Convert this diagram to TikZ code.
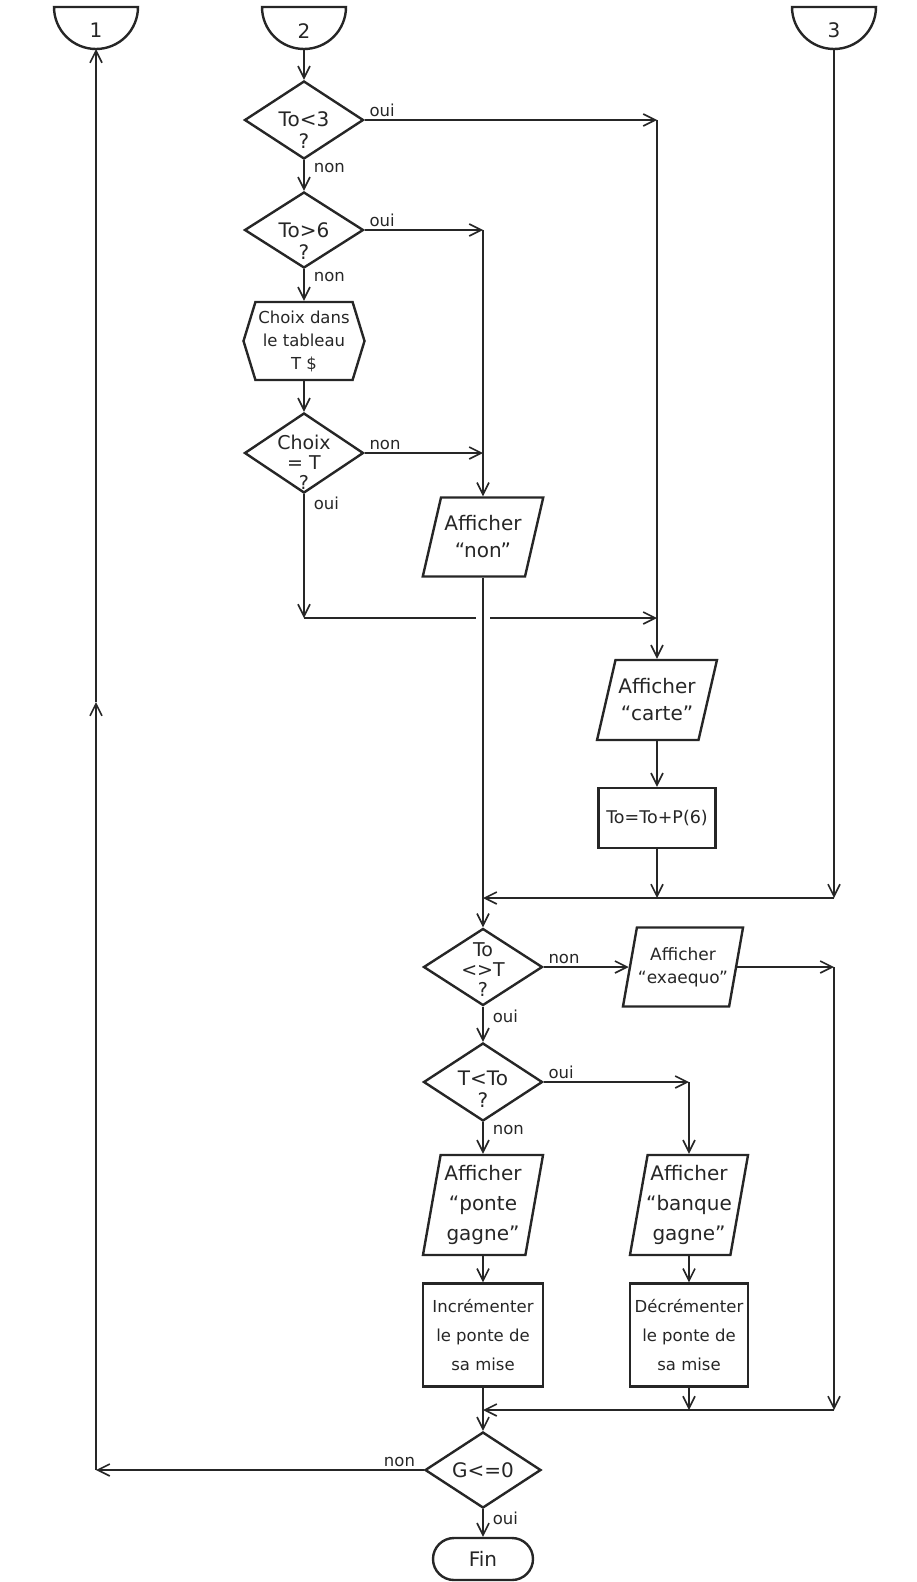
\documentclass[tikz,border=0pt]{standalone}
\usepackage{fontspec}
\setmainfont{DejaVu Sans}
\usetikzlibrary{shapes.geometric,shapes.symbols,shapes.misc,arrows.meta}
\newcommand\fntPar{\fontsize{20}{27}\selectfont}
\newcommand\fntParB{\fontsize{20}{30}\selectfont}
\newcommand\fntDia{\fontsize{20}{22}\selectfont}
\newcommand\fntBox{\fontsize{16.5}{29}\selectfont}
\newcommand\fntHex{\fontsize{16.5}{23}\selectfont}
\newcommand\fntLab{\fontsize{16.5}{18}\selectfont}
\begin{document}
\begin{tikzpicture}[x=1pt,y=-1pt,
 base/.style={draw=black!85, line width=2.4pt, inner sep=0pt, text=black!85},
 dia/.style={base, diamond, minimum width=119pt, minimum height=78pt},
 para/.style={base, trapezium, trapezium left angle=77, trapezium right angle=103,
   inner xsep=42pt, inner ysep=39.5pt},
 parab/.style={base, trapezium, trapezium left angle=80, trapezium right angle=100,
   inner xsep=42.4pt, inner ysep=50pt},
 boxx/.style={base, rectangle, minimum width=120pt, minimum height=103pt},
 hexa/.style={base, signal, signal to=west and east, signal pointer angle=146,
   minimum width=121pt, minimum height=78pt},
 term/.style={base, rounded rectangle, minimum width=100pt, minimum height=42pt},
 txt/.style={align=center, text=black!85, inner sep=0pt},
 lab/.style={font=\fntLab, text=black!85, inner sep=2pt},
 arr/.style={draw=black!85, line width=1.6pt, -{Straight Barb[length=12pt,width=12pt]}},
 conn/.style={draw=black!85, line width=2.4pt},
]
\useasboundingbox (0,0) rectangle (916,1582);

% off-page connectors
\draw[conn] (54,7) -- (138,7) arc[start angle=0, end angle=-180, radius=42pt] -- cycle;
\node[txt, font=\fontsize{20}{22}\selectfont] (c1) at (96,30) {1};
\coordinate (c1b) at (96,49);
\draw[conn] (262,7) -- (346,7) arc[start angle=0, end angle=-180, radius=42pt] -- cycle;
\node[txt, font=\fontsize{20}{22}\selectfont] (c2) at (304,31) {2};
\coordinate (c2b) at (304,49);
\draw[conn] (792,7) -- (876,7) arc[start angle=0, end angle=-180, radius=42pt] -- cycle;
\node[txt, font=\fontsize{20}{22}\selectfont] (c3) at (834,30) {3};
\coordinate (c3b) at (834,49);

% shapes
\node[dia, label={[txt,font=\fntDia,yshift=-10pt]center:To<3\\?}] (d1) at (304,120) {};
\node[dia, minimum height=76pt, label={[txt,font=\fntDia,yshift=-11pt]center:To>6\\?}] (d2) at (304,230) {};
\node[hexa, label={[txt,font=\fntHex]center:Choix dans\\le tableau\\T \$}] (hex) at (304,341) {};
\node[dia, minimum height=80pt, label={[txt,font=\fontsize{19}{20}\selectfont,yshift=-9pt]center:Choix\\= T\\?}] (d3) at (304,453) {};
\node[para, label={[txt,font=\fntPar]center:Afficher\\“non”}] (an) at (483,537) {};
\node[para, inner xsep=41.5pt, inner ysep=40pt, label={[txt,font=\fntPar]center:Afficher\\“carte”}] (carte) at (657,700) {};
\node[boxx, minimum width=117pt, minimum height=60pt, label={[txt,font=\fontsize{17.5}{20}\selectfont]center:To=To+P(6)}] (calc) at (657,818) {};
\node[dia, minimum height=77pt, label={[txt,font=\fontsize{19}{20}\selectfont,yshift=-3pt]center:To\\<>T\\?}] (d4) at (483,967) {};
\node[parab, inner xsep=46.1pt, inner ysep=39.5pt, label={[txt,font=\fontsize{17}{23}\selectfont]center:Afficher\\“exaequo”}] (exa) at (683,967) {};
\node[dia, label={[txt,font=\fntDia,yshift=-7pt]center:T<To\\?}] (d5) at (483,1082) {};
\node[parab, label={[txt,font=\fntParB]center:Afficher\\“ponte\\gagne”}] (pon) at (483,1205) {};
\node[parab, inner xsep=41.4pt, label={[txt,font=\fntParB]center:Afficher\\“banque\\gagne”}] (ban) at (689,1205) {};
\node[boxx, label={[txt,font=\fntBox]center:Incrémenter\\le ponte de\\sa mise}] (inc) at (483,1335) {};
\node[boxx, minimum width=118pt, label={[txt,font=\fntBox]center:Décrémenter\\le ponte de\\sa mise}] (dec) at (689,1335) {};
\node[dia, minimum width=116pt, minimum height=76pt, label={[txt,font=\fntDia]center:G<=0}] (d6) at (483,1470) {};
\node[term, label={[txt,font=\fntPar]center:Fin}] (fin) at (483,1559) {};

% junctions
\coordinate (j1) at (carte.north |- d1.east);
\coordinate (j2) at (an.north |- d2.east);
\coordinate (j3) at (304,618);
\coordinate (j4) at (483,898);
\coordinate (j5) at (657,898);
\coordinate (j6) at (834,898);
\coordinate (j7) at (834,967);
\coordinate (j8) at (834,1410);
\coordinate (j9) at (483,1410);
\coordinate (j10) at (ban.north |- d5.east);
\coordinate (j11) at (96,1470);
\coordinate (j12) at (96,702);

% connectors
\draw[arr] (c2b) -- (d1.north);
\draw[arr] (d1.east) -- node[lab,pos=0,anchor=south west,xshift=2pt]{oui} (j1);
\draw[arr] (j1) -- (carte.north);
\draw[arr] (d1.south) -- node[lab,pos=0,anchor=north west,xshift=7pt]{non} (d2.north);
\draw[arr] (d2.east) -- node[lab,pos=0,anchor=south west,xshift=2pt]{oui} (j2);
\draw[arr] (d2.south) -- node[lab,pos=0,anchor=north west,xshift=7pt]{non} (hex.north);
\draw[arr] (hex.south) -- (d3.north);
\draw[arr] (d3.east) -- node[lab,pos=0,anchor=south west,xshift=2pt]{non} (an.north |- d3.east);
\draw[arr] (d3.south) -- node[lab,pos=0,anchor=north west,xshift=7pt]{oui} (j3);
\draw[arr] (j3) -- (carte.north |- j3);
\draw[white, line width=5pt] ([xshift=-7pt]an.south |- j3) -- ([xshift=7pt]an.south |- j3);
\draw[arr] (j2) -- (an.north);
\draw[arr] (an.south) -- (d4.north);
\draw[arr] (carte.south) -- (calc.north);
\draw[arr] (calc.south) -- (j5);
\draw[arr] (c3b) -- (j6);
\draw[arr] (j6) -- (j4);
\draw[arr] (d4.east) -- node[lab,pos=0,anchor=south west,xshift=2pt]{non} (exa.west);
\draw[arr] (exa.east) -- (j7);
\draw[arr] (j7) -- (j8);
\draw[arr] (j8) -- (j9);
\draw[arr] (d4.south) -- node[lab,pos=0,anchor=north west,xshift=7pt]{oui} (d5.north);
\draw[arr] (d5.east) -- node[lab,pos=0,anchor=south west,xshift=2pt]{oui} (j10);
\draw[arr] (j10) -- (ban.north);
\draw[arr] (d5.south) -- node[lab,pos=0,anchor=north west,xshift=7pt]{non} (pon.north);
\draw[arr] (pon.south) -- (inc.north);
\draw[arr] (ban.south) -- (dec.north);
\draw[arr] (dec.south) -- (dec.south |- j9);
\draw[arr] (inc.south) -- (d6.north);
\draw[arr] (d6.west) -- node[lab,pos=0,anchor=south east,xshift=-6pt]{non} (j11);
\draw[arr] (j11) -- (j12);
\draw[arr] (j12) -- (c1b);
\draw[arr] (d6.south) -- node[lab,pos=0,anchor=north west,xshift=7pt]{oui} (fin.north);
\end{tikzpicture}
\end{document}
